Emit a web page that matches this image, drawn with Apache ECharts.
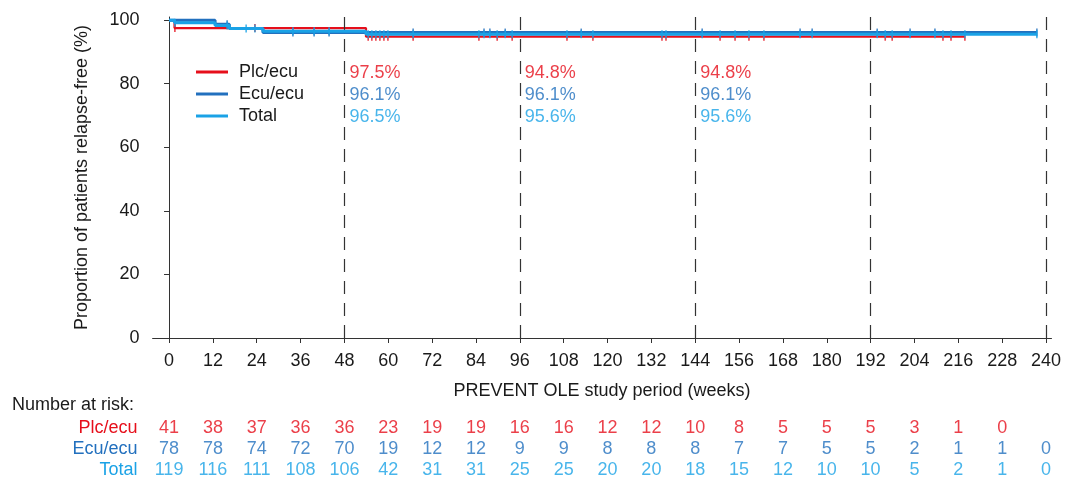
<!DOCTYPE html>
<html><head><meta charset="utf-8">
<script src="https://cdn.jsdelivr.net/npm/echarts@6/dist/echarts.min.js"></script>
<style>html,body{margin:0;padding:0;background:#fff}#c{width:1066px;height:481px}</style>
</head><body><div id="c"></div>
<script>
// ---- data ----
const weekTicks = [0,12,24,36,48,60,72,84,96,108,120,132,144,156,168,180,192,204,216,228,240];
const yTicks = [0,20,40,60,80,100];
const seriesNames = ['Plc/ecu','Ecu/ecu','Total'];

// Kaplan-Meier step curves (time in weeks, % relapse-free)
const plcTimes = [0, 1.5, 53.9, 217.8];
const plcSurv  = [100, 97.5, 94.8, 94.8];
const ecuTimes = [0, 12.6, 16.5, 25.7, 237.5];
const ecuSurv  = [100, 98.7, 97.4, 96.1, 96.1];
const totTimes = [0, 1.5, 12.6, 16.5, 25.7, 53.9, 237.5];
const totSurv  = [100, 99.2, 98.3, 97.4, 96.5, 95.6, 95.6];

// censor marks (weeks)
const plcCensor = [1.6, 23.5, 54.5, 55.5, 56.6, 57.7, 58.8, 59.9, 66.8, 84.8, 89.8, 93.9, 108.9, 116, 134.9, 136, 150.8, 154.9, 158.7, 162.8, 196, 197.9, 211.8, 214, 217.8];
const ecuCensor = [15.9, 33.9, 39.7, 43.8, 66.8, 86.2, 87.8, 92, 112.8, 145.9, 172.7, 176, 193.8, 202.8, 209.6, 237.5];
const totExtraCensor = [21.1];

// landmark annotations
const landmarkWeeks = [48, 96, 144];
const pctPlc = ['97.5%','94.8%','94.8%'];
const pctEcu = ['96.1%','96.1%','96.1%'];
const pctTot = ['96.5%','95.6%','95.6%'];
const dashWeeks = [48, 96, 144, 192, 240];

// number at risk
const riskPlc = [41,38,37,36,36,23,19,19,16,16,12,12,10,8,5,5,5,3,1,0];
const riskEcu = [78,78,74,72,70,19,12,12,9,9,8,8,8,7,7,5,5,2,1,1,0];
const riskTot = [119,116,111,108,106,42,31,31,25,25,20,20,18,15,12,10,10,5,2,1,0];

// ---- styling ----
const RED = '#E60F1B', DBLUE = '#2270BE', LBLUE = '#1AA2E6';
const colors = [RED, DBLUE, LBLUE];
const FONT = '"Liberation Sans", Arial, sans-serif';
const FS = 18;
const XMIN = -4.5, XMAX = 241.5;

function zip(t, s) { return t.map((v, i) => [v, s[i]]); }
function survAt(times, surv, t) {
  let v = surv[0];
  for (let i = 0; i < times.length; i++) { if (times[i] <= t) v = surv[i]; }
  return v;
}
const totCensor = Array.from(new Set(plcCensor.concat(ecuCensor, totExtraCensor))).sort((a,b)=>a-b);

function censorSeries(name, weeks, times, surv, color, z) {
  return {
    name: name, type: 'scatter', xAxisIndex: 0, yAxisIndex: 0,
    symbol: 'rect', symbolSize: [1.6, 8], z: z, silent: true,
    itemStyle: { color: color },
    data: weeks.map(w => [w, survAt(times, surv, w)])
  };
}

const annoY = 76.6; // centre row of annotation block (value units)
const annoRows = [[pctPlc, RED, -22], [pctEcu, DBLUE, 0], [pctTot, LBLUE, 22]];
const annoSeries = annoRows.map((r, k) => ({
  name: 'anno' + k, type: 'scatter', xAxisIndex: 0, yAxisIndex: 0,
  symbolSize: 0, silent: true, z: 10,
  data: landmarkWeeks.map((w, i) => ({ value: [w, annoY], label: { formatter: r[0][i] } })),
  label: { show: true, position: 'inside', align: 'left', verticalAlign: 'middle',
           offset: [5, r[2]], color: r[1], fontSize: FS, fontFamily: FONT }
}));

const riskRows = [[riskPlc, 'Plc/ecu', RED], [riskEcu, 'Ecu/ecu', DBLUE], [riskTot, 'Total', LBLUE]];
const riskSeries = riskRows.map((r, k) => ({
  name: 'risk' + k, type: 'scatter', xAxisIndex: 1, yAxisIndex: 1,
  symbolSize: 0, silent: true,
  data: r[0].map((n, i) => [weekTicks[i], r[1], n]),
  label: { show: true, position: 'inside', formatter: p => String(p.value[2]),
           color: r[2], fontSize: FS, fontFamily: FONT }
}));

const option = {
  animation: false,
  textStyle: { fontFamily: FONT },
  title: { text: 'Number at risk:', left: 7, top: 391,
           textStyle: { fontSize: FS, fontWeight: 'normal', color: '#1a1a1a', fontFamily: FONT } },
  legend: {
    data: seriesNames, orient: 'vertical', left: 191, top: 58,
    icon: 'rect', itemWidth: 32, itemHeight: 3, itemGap: 4,
    textStyle: { fontSize: FS, color: '#1a1a1a', lineHeight: 18, padding: [0,0,0,6], fontFamily: FONT }
  },
  grid: [
    { left: 152.6, width: 898.9, top: 17, height: 321 },
    { left: 152.6, width: 898.9, top: 417, height: 70 }
  ],
  xAxis: [
    { type: 'value', gridIndex: 0, min: XMIN, max: XMAX,
      name: 'PREVENT OLE study period (weeks)', nameLocation: 'middle', nameGap: 44,
      nameTextStyle: { fontSize: FS, color: '#1a1a1a', fontFamily: FONT },
      axisLine: { show: true, lineStyle: { color: '#333', width: 1 } },
      axisTick: { show: true, customValues: weekTicks, length: 5, lineStyle: { color: '#333' } },
      axisLabel: { customValues: weekTicks, fontSize: FS, color: '#1a1a1a', margin: 14, fontFamily: FONT },
      splitLine: { show: false } },
    { type: 'value', gridIndex: 1, min: XMIN, max: XMAX, show: false }
  ],
  yAxis: [
    { type: 'value', gridIndex: 0, min: 0, max: 101,
      name: 'Proportion of patients relapse-free (%)', nameLocation: 'middle', nameGap: 62,
      nameTextStyle: { fontSize: FS, color: '#1a1a1a', fontFamily: FONT },
      axisLine: { show: true, lineStyle: { color: '#333', width: 1 } },
      axisTick: { show: true, customValues: yTicks, length: 5, lineStyle: { color: '#333' } },
      axisLabel: { customValues: yTicks, fontSize: FS, color: '#1a1a1a', margin: 13, fontFamily: FONT },
      splitLine: { show: false } },
    { type: 'category', gridIndex: 1, data: seriesNames, inverse: true,
      axisLine: { show: false }, axisTick: { show: false }, splitLine: { show: false },
      axisLabel: { interval: 0, hideOverlap: false, fontSize: FS, margin: 15, fontFamily: FONT,
                   color: (v, i) => colors[seriesNames.indexOf(v)] } }
  ],
  series: [
    { name: 'Plc/ecu', type: 'line', step: 'end', data: zip(plcTimes, plcSurv),
      showSymbol: false, symbol: 'none', color: RED, lineStyle: { color: RED, width: 2.2 }, z: 3,
      markLine: { silent: true, symbol: ['none','none'], label: { show: false },
                  lineStyle: { type: [13, 9], color: '#333', width: 1.2 },
                  data: dashWeeks.map(w => ({ xAxis: w })) } },
    censorSeries('plcC', plcCensor, plcTimes, plcSurv, RED, 3),
    { name: 'Ecu/ecu', type: 'line', step: 'end', data: zip(ecuTimes, ecuSurv),
      showSymbol: false, symbol: 'none', color: DBLUE, lineStyle: { color: DBLUE, width: 3 }, z: 4 },
    censorSeries('ecuC', ecuCensor, ecuTimes, ecuSurv, DBLUE, 4),
    { name: 'Total', type: 'line', step: 'end', data: zip(totTimes, totSurv),
      showSymbol: false, symbol: 'none', color: LBLUE, lineStyle: { color: LBLUE, width: 3 }, z: 5 },
    censorSeries('totC', totCensor, totTimes, totSurv, LBLUE, 5)
  ].concat(annoSeries, riskSeries)
};

const chart = echarts.init(document.getElementById('c'), null, { renderer: 'canvas' });
chart.setOption(option);
</script>
</body></html>
